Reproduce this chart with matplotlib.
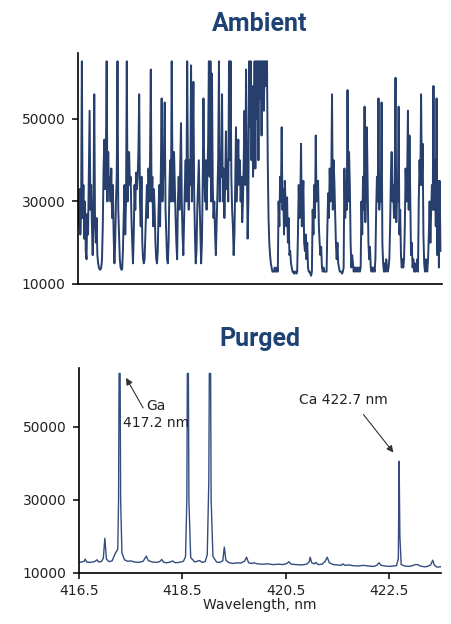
"""
Ambient vs purged emission spectrum, two stacked panels
"""

import numpy as np
import matplotlib.pyplot as plt

# ambient spectrum, sampled every 0.015 nm from 416.50 nm (values in counts/1000)
amb_start = 416.50
amb_step = 0.015
ambient_k = [
    30, 24, 33, 22, 28, 64, 26, 34, 21, 30,
    18, 16, 27, 22, 36, 52, 28, 34, 24, 17,
    30, 56, 24, 20, 26, 17, 15, 14, 13.5, 13.5,
    14, 16, 24, 38, 45, 33, 40, 64, 30, 42,
    33, 36, 30, 38, 26, 34, 22, 15, 20, 30,
    36, 64, 28, 22, 16, 14, 13.5, 13.5, 18, 26,
    34, 22, 30, 64, 30, 38, 42, 34, 36, 26,
    20, 15, 22, 34, 28, 37, 33, 36, 42, 56,
    30, 24, 36, 20, 16, 15, 16, 22, 28, 34,
    26, 38, 30, 40, 62, 30, 36, 24, 33, 28,
    20, 16, 15, 18, 28, 34, 24, 38, 55, 30,
    36, 42, 54, 28, 22, 16, 15, 20, 33, 40,
    30, 64, 36, 30, 42, 34, 26, 20, 16, 30,
    36, 28, 38, 49, 30, 22, 17, 26, 34, 40,
    30, 64, 36, 28, 40, 34, 63, 30, 42, 59,
    32, 22, 15, 18, 28, 34, 40, 30, 22, 15,
    20, 34, 55, 38, 30, 40, 28, 36, 44, 64,
    36, 64, 30, 61, 34, 26, 30, 22, 17, 24,
    32, 40, 64, 30, 42, 36, 56, 30, 38, 26,
    34, 47, 33, 40, 30, 64, 40, 64, 36, 28,
    24, 17, 22, 34, 48, 30, 38, 45, 34, 40,
    30, 36, 25, 30, 40, 52, 34, 62, 40, 21,
    30, 64, 48, 64, 40, 58, 36, 42, 64, 38,
    64, 50, 64, 40, 64, 55, 64, 46, 64, 64,
    52, 64, 58, 64, 64, 40, 26, 20, 17, 15,
    14, 13, 13, 13, 14, 13, 13, 14, 13, 30,
    24, 36, 30, 48, 28, 33, 22, 35, 30, 24, 31, 20, 26, 17, 18, 15, 14, 13, 13, 12.5,
    13, 13, 12.5, 13, 22, 34, 26, 30, 44, 24, 30, 35, 20, 18, 22, 16, 20, 14, 13, 13,
    12.5, 12, 13, 28, 22, 34, 26, 46, 30, 33, 35, 24, 20, 17, 19, 14, 13, 14, 13, 13,
    13, 13, 24, 32, 26, 38, 30, 35, 56, 28, 40, 35, 28, 20, 16, 20, 15, 14, 13, 13,
    13, 12.5, 13, 14, 38, 26, 34, 28, 57, 30, 42, 34, 20, 14, 17, 15, 13, 14, 13, 14,
    13, 14, 13, 14, 13, 14, 30, 22, 36, 28, 53, 25, 35, 48, 34, 20, 16, 19, 14, 13,
    14, 13, 14, 13, 16, 28, 36, 30, 55, 28, 34, 30, 54, 20, 15, 13, 15, 13, 16, 14,
    13, 14, 16, 24, 36, 42, 30, 34, 26, 38, 60, 25, 34, 30, 53, 22, 28, 17, 14, 16,
    14, 16, 24, 38, 30, 35, 52, 28, 46, 32, 17, 20, 14, 16, 13, 15, 13, 14, 16, 13,
    30, 40, 34, 56, 34, 44, 22, 15, 13, 16, 14, 13, 16, 22, 30, 20, 28, 34, 28, 58,
    28, 40, 24, 55, 17, 35, 14, 35, 18,
]

# purged spectrum
purged_wl = [
    416.50, 416.55, 416.60, 416.62, 416.65, 416.72, 416.80, 416.85, 416.88, 416.93,
    416.97, 417.00, 417.03, 417.08, 417.14, 417.19, 417.22, 417.25, 417.265, 417.275,
    417.295, 417.305, 417.33, 417.38, 417.44, 417.50, 417.58, 417.66, 417.74, 417.80,
    417.84, 417.92, 418.00, 418.06, 418.10, 418.14, 418.20, 418.27, 418.31, 418.36,
    418.44, 418.52, 418.56, 418.585, 418.595, 418.615, 418.625, 418.66, 418.74, 418.83,
    418.88, 418.94, 418.98, 419.01, 419.02, 419.045, 419.055, 419.09, 419.16, 419.22,
    419.28, 419.31, 419.34, 419.40, 419.48, 419.56, 419.62, 419.70, 419.74, 419.78,
    419.84, 419.88, 419.95, 420.05, 420.15, 420.25, 420.35, 420.45, 420.52, 420.56,
    420.60, 420.70, 420.80, 420.90, 420.95, 420.97, 421.00, 421.05, 421.08, 421.12,
    421.20, 421.26, 421.30, 421.34, 421.42, 421.50, 421.57, 421.60, 421.64, 421.72,
    421.80, 421.90, 422.00, 422.10, 422.20, 422.26, 422.30, 422.34, 422.42, 422.50,
    422.58, 422.64, 422.675, 422.69, 422.705, 422.73, 422.80, 422.88, 422.95, 423.00,
    423.05, 423.10, 423.18, 423.24, 423.30, 423.34, 423.37, 423.42, 423.48, 423.52,
]
purged_counts = [
    12900, 13000, 13200, 13800, 13000, 12900, 13100, 13600, 13000, 13100,
    14000, 19500, 13800, 13100, 13300, 15000, 15800, 16500, 30000, 64500,
    64500, 30000, 15500, 13600, 13200, 13300, 13000, 12900, 13200, 14600,
    13400, 13000, 12900, 13100, 13700, 12900, 12800, 13000, 13300, 12800,
    12900, 13200, 14500, 30000, 64500, 64500, 30000, 14200, 13000, 13400,
    12900, 13100, 15000, 35000, 64500, 64500, 30000, 14500, 13000, 12900,
    13300, 17100, 13500, 12800, 12600, 12800, 12700, 13200, 14300, 12800,
    12600, 12800, 12500, 12400, 12500, 12300, 12400, 12300, 12600, 13100,
    12400, 12300, 12200, 12400, 13000, 14300, 12800, 12500, 12900, 12300,
    12400, 13200, 14300, 12800, 12300, 12200, 12100, 12500, 12100, 12200,
    12000, 11900, 12100, 11900, 11800, 12100, 12800, 12100, 11900, 11800,
    11900, 12000, 14000, 40500, 20000, 12300, 11900, 11800, 12000, 12300,
    12300, 11900, 11700, 11800, 12200, 13500, 12200, 11600, 11700, 11700,
]

yticks = [10000, 30000, 50000]
xticks = [416.5, 418.5, 420.5, 422.5]

title_color = '#1f4275'
line_color = '#263f6d'
ftsize = 10

plt.rc('font', family='DejaVu Sans')

fig = plt.figure(figsize=(4.51, 6.24), dpi=100)

ax1 = fig.add_axes([78/451, 1-284/624, (442-78)/451, (284-53)/624])
ax2 = fig.add_axes([79/451, 1-573/624, (441-79)/451, (573-368)/624])

amb_wl = amb_start + amb_step*np.arange(len(ambient_k))
amb = np.array(ambient_k)*1000.

ax1.plot(amb_wl, amb, color=line_color, lw=1.4)
ax2.plot(purged_wl, purged_counts, color='#344d7e', lw=1.0)

for ax, title in zip([ax1, ax2], ['Ambient', 'Purged']):
    for s in ['top', 'right']:
        ax.spines[s].set_visible(False)
    ax.spines['left'].set_linewidth(1.2)
    ax.spines['bottom'].set_linewidth(1.2)
    ax.set_ylim(10000, 66000)
    ax.set_yticks(yticks)
    ax.tick_params(axis='y', direction='out', length=4, width=1.1,
                   labelsize=ftsize, labelcolor='#222222', pad=5)
    ax.set_title(title, fontsize=18, fontweight='bold', color=title_color,
                 family=['Roboto', 'DejaVu Sans'], pad=16)

ax1.set_xlim(416.5, 423.55)
ax1.set_xticks([])

ax2.set_xlim(416.5, 423.5)
ax2.set_xticks(xticks)
ax2.set_xticklabels(['416.5', '418.5', '420.5', '422.5'])
ax2.tick_params(axis='x', direction='out', length=4, width=1.1,
                labelsize=ftsize, labelcolor='#222222', pad=4)
ax2.set_xlabel('Wavelength, nm', fontsize=ftsize, color='#222222', labelpad=0)

arrow = dict(arrowstyle='-|>', color='#333333', lw=0.8,
             mutation_scale=10, shrinkA=0, shrinkB=0)
ax2.annotate('', xy=(417.41, 63300), xytext=(417.74, 55100), arrowprops=arrow)
ax2.text(417.99, 53300, 'Ga\n417.2 nm', ha='center', va='center',
         multialignment='center', linespacing=1.35, fontsize=ftsize,
         color='#222222')
ax2.annotate('', xy=(422.58, 42900), xytext=(422.0, 53300), arrowprops=arrow)
ax2.text(421.62, 57300, 'Ca 422.7 nm', ha='center', va='center',
         fontsize=ftsize, color='#222222')

plt.savefig('out.png', dpi=100)
